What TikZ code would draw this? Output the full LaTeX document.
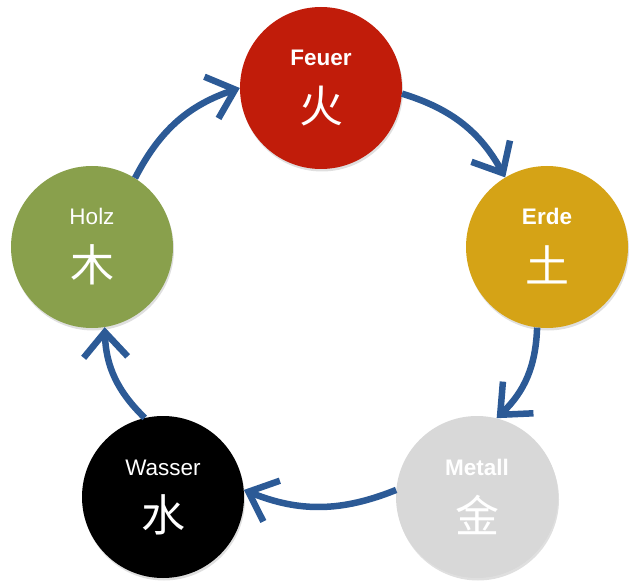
\documentclass[tikz,border=0pt]{standalone}
\usepackage{fontspec}
\setmainfont{Liberation Sans}
\newfontfamily\cjk{Noto Sans CJK SC}
\usetikzlibrary{arrows.meta,shadows}
\definecolor{feuerred}{RGB}{193,28,10}
\definecolor{erdegold}{RGB}{213,163,22}
\definecolor{metallgray}{RGB}{216,216,216}
\definecolor{holzgreen}{RGB}{137,160,76}
\definecolor{arrowblue}{RGB}{44,90,150}
\tikzset{
  element/.style={circle, minimum size=162pt, inner sep=0pt, draw=none,
    drop shadow={opacity=0.25, shadow xshift=1pt, shadow yshift=-2.5pt}},
  lbl/.style={text=white, font=\fontsize{22.5}{26}\selectfont, anchor=base, inner sep=0pt},
  boldlbl/.style={lbl, font=\fontsize{22.5}{26}\selectfont\bfseries},
  zeichen/.style={text=white, font=\cjk\fontsize{44}{48}\selectfont, inner sep=0pt},
  arr/.style={draw=arrowblue, line width=6.5pt,
    -{Straight Barb[length=25pt,width=44pt,line width=6.5pt]}, bend left=22}
}
\begin{document}
\begin{tikzpicture}[x=1pt,y=1pt]
\useasboundingbox (0,0) rectangle (644,584);
\node[element, fill=feuerred]   (feuer)  at (321,496) {};
\node[element, fill=erdegold]   (erde)   at (547,337) {};
\node[element, fill=metallgray] (metall) at (477,87) {};
\node[element, fill=black]      (wasser) at (163,87) {};
\node[element, fill=holzgreen]  (holz)   at (92,337) {};

\node[boldlbl] (feuerT)  at ([yshift=22pt]feuer.center) {Feuer};
\node[boldlbl] (erdeT)   at ([yshift=22pt]erde.center) {Erde};
\node[boldlbl] (metallT) at ([yshift=22pt]metall.center) {Metall};
\node[lbl]     (wasserT) at ([yshift=22pt]wasser.center) {Wasser};
\node[lbl]     (holzT)   at ([yshift=22pt]holz.center) {Holz};

\node[zeichen] (feuerZ)  at ([yshift=-18pt]feuer.center) {火};
\node[zeichen] (erdeZ)   at ([yshift=-18pt]erde.center) {土};
\node[zeichen] (metallZ) at ([yshift=-18pt]metall.center) {金};
\node[zeichen] (wasserZ) at ([yshift=-18pt]wasser.center) {水};
\node[zeichen] (holzZ)   at ([yshift=-18pt]holz.center) {木};

\draw[arr] (holz.58) to (feuer.180);
\draw[arr] (feuer.-4) to (erde.121);
\draw[arr] (erde.-97) to (metall.76);
\draw[arr] (metall.175) to (wasser.5);
\draw[arr] (wasser.103) to (holz.-81);
\end{tikzpicture}
\end{document}
